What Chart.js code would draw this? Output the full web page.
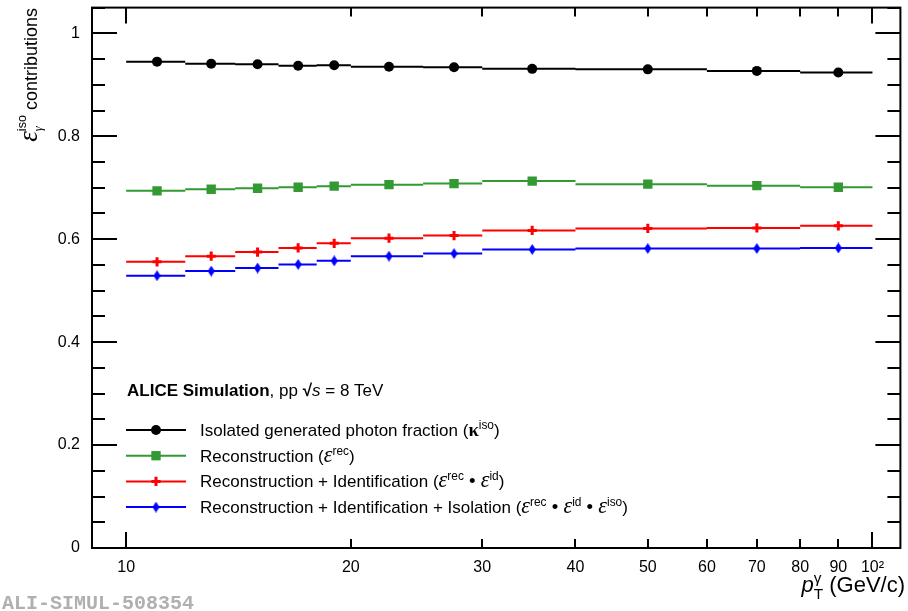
<!DOCTYPE html>
<html>
<head>
<meta charset="utf-8">
<title>Isolated photon efficiency contributions</title>
<script src="https://cdn.jsdelivr.net/npm/chart.js@4.4.1/dist/chart.umd.min.js"></script>
<style>
  html, body { margin: 0; padding: 0; background: #fff; }
  #wrap { width: 908px; height: 611px; }
</style>
</head>
<body>
<div id="wrap"><canvas id="effChart" width="908" height="611"></canvas></div>
<script>
// pT bins (GeV/c) and their centres
const binEdges = [10, 12, 14, 16, 18, 20, 25, 30, 40, 60, 80, 100];
const binCenters = [11, 13, 15, 17, 19, 22.5, 27.5, 35, 50, 70, 90];

// contributions per bin
const kappaIso = [0.945, 0.941, 0.940, 0.937, 0.938, 0.935, 0.934, 0.931, 0.930, 0.927, 0.924];
const effRec = [0.694, 0.697, 0.699, 0.701, 0.703, 0.706, 0.708, 0.713, 0.707, 0.704, 0.701];
const effRecId = [0.556, 0.567, 0.575, 0.583, 0.592, 0.602, 0.607, 0.617, 0.621, 0.622, 0.626];
const effRecIdIso = [0.529, 0.538, 0.544, 0.551, 0.558, 0.567, 0.572, 0.580, 0.582, 0.582, 0.583];

// axis ticks
const xTickValues = [10, 20, 30, 40, 50, 60, 70, 80, 90, 100];
const yTickValues = [0, 0.2, 0.4, 0.6, 0.8, 1];
const yMinorStep = 0.05;

const SANS = '"Liberation Sans", Arial, Helvetica, sans-serif';
const SERIF = '"Liberation Serif", "DejaVu Serif", serif';

Chart.defaults.font.family = SANS;
Chart.defaults.font.size = 16;
Chart.defaults.color = "#000";

const GREEN = "rgb(51, 153, 51)";

// thin diamond marker
function makeDiamond(color) {
  const c = document.createElement("canvas");
  c.width = 7;
  c.height = 11;
  const g = c.getContext("2d");
  g.fillStyle = color;
  g.beginPath();
  g.moveTo(3.5, 0);
  g.lineTo(7, 5.5);
  g.lineTo(3.5, 11);
  g.lineTo(0, 5.5);
  g.closePath();
  g.fill();
  return c;
}

const series = [
  { values: kappaIso, color: "#000", marker: { pointStyle: "circle", radius: 5, borderWidth: 0 } },
  { values: effRec, color: GREEN, marker: { pointStyle: "rect", radius: 6.6, borderWidth: 0 } },
  { values: effRecId, color: "#ff0000", marker: { pointStyle: "cross", radius: 4.6, borderWidth: 3 } },
  { values: effRecIdIso, color: "#0000ff", marker: { pointStyle: makeDiamond("#0000ff"), radius: 5, borderWidth: 0 } },
];

function binSegments(values) {
  const pts = [];
  values.forEach((v, i) => {
    pts.push({ x: binEdges[i], y: v }, { x: binEdges[i + 1], y: v }, { x: binEdges[i + 1], y: null });
  });
  return pts;
}

function returnDatasets() {
  const sets = [];
  series.forEach((s) => {
    sets.push({
      data: binSegments(s.values),
      borderColor: s.color,
      borderWidth: 2,
      pointRadius: 0,
      spanGaps: false,
      fill: false,
    });
    sets.push({
      data: binCenters.map((c, i) => ({ x: c, y: s.values[i] })),
      showLine: false,
      pointStyle: s.marker.pointStyle,
      pointRadius: s.marker.radius,
      pointBorderWidth: s.marker.borderWidth,
      pointBackgroundColor: s.color,
      pointBorderColor: s.color,
    });
  });
  return sets;
}

// text with super/subscripts, drawn piece by piece
function richWidth(ctx, parts, size) {
  return drawRich(ctx, parts, 0, 0, size, true);
}

function drawRich(ctx, parts, x, y, size, measureOnly) {
  let cx = x;
  let lastX = x;
  let lastW = 0;
  parts.forEach((p) => {
    const fs = (p.sup || p.sub ? size * 0.7 : size) * (p.k || 1);
    const family = p.serif ? SERIF : SANS;
    ctx.font = (p.i ? "italic " : "") + (p.b ? "bold " : "") + fs + "px " + family;
    const w = ctx.measureText(p.t).width;
    const dy = p.sup ? -size * (p.up || 0.42) : p.sub ? size * 0.3 : 0;
    const px = p.stack ? lastX : cx;
    if (!measureOnly) ctx.fillText(p.t, px, y + dy);
    if (p.stack) {
      cx = lastX + Math.max(lastW, w);
    } else {
      lastX = cx;
      lastW = w;
      cx += w;
    }
  });
  return cx - x;
}

const eps = (sup) => [{ t: "ε", serif: true, i: true, k: 1.3 }, { t: sup, sup: true }];
const dot = { t: " • ", k: 1.1 };
const legendRows = [
  [{ t: "Isolated generated photon fraction (" }, { t: "κ", b: true, serif: true, k: 1.1 }, { t: "iso", sup: true }, { t: ")" }],
  [{ t: "Reconstruction (" }, ...eps("rec"), { t: ")" }],
  [{ t: "Reconstruction + Identification (" }, ...eps("rec"), dot, ...eps("id"), { t: ")" }],
  [{ t: "Reconstruction + Identification + Isolation (" }, ...eps("rec"), dot, ...eps("id"), dot, ...eps("iso"), { t: ")" }],
];
const legendHeader = [{ t: "ALICE Simulation", b: true }, { t: ", pp " }, { t: "√", b: true }, { t: "s", i: true }, { t: " = 8 TeV" }];
const xTitle = [{ t: "p", i: true }, { t: "T", sub: true }, { t: "γ", sup: true, stack: true }, { t: " (GeV/c)" }];
const yTitle = [
  { t: "ε", serif: true, i: true, k: 1.5 },
  { t: "γ", sub: true, serif: true, i: true },
  { t: "iso", sup: true, stack: true, up: 0.6 },
  { t: " contributions" },
];

const frameAndTicks = {
  id: "frameAndTicks",
  afterDatasetsDraw(chart) {
    const { ctx, chartArea: a, scales } = chart;
    const x = scales.x;
    const y = scales.y;
    ctx.save();
    ctx.strokeStyle = "#000";
    ctx.lineWidth = 2;
    ctx.beginPath();
    const nMinor = Math.round(y.max / yMinorStep);
    for (let i = 0; i <= nMinor; i++) {
      const v = i * yMinorStep;
      const py = Math.round(y.getPixelForValue(v));
      const major = yTickValues.some((t) => Math.abs(t - v) < 1e-6);
      const len = major ? 25 : 13;
      ctx.moveTo(a.left, py);
      ctx.lineTo(a.left + len, py);
      ctx.moveTo(a.right, py);
      ctx.lineTo(a.right - len, py);
    }
    xTickValues.forEach((v) => {
      const px = Math.round(x.getPixelForValue(v));
      const len = v === 10 || v === 100 ? 16 : 9;
      ctx.moveTo(px, a.bottom);
      ctx.lineTo(px, a.bottom - len);
      ctx.moveTo(px, a.top);
      ctx.lineTo(px, a.top + len);
    });
    ctx.stroke();
    ctx.strokeRect(a.left, a.top, a.width, a.height);
    ctx.restore();
  },
};

const legendAndTitles = {
  id: "legendAndTitles",
  afterDraw(chart) {
    const { ctx } = chart;
    ctx.save();
    ctx.fillStyle = "#000";
    ctx.textBaseline = "alphabetic";

    drawRich(ctx, legendHeader, 127, 396, 17);

    const rowY = [430, 455.7, 481.4, 507.1];
    series.forEach((s, i) => {
      const cy = rowY[i];
      ctx.strokeStyle = s.color;
      ctx.lineWidth = 2;
      ctx.beginPath();
      ctx.moveTo(126, cy);
      ctx.lineTo(186, cy);
      ctx.stroke();
      ctx.fillStyle = s.color;
      ctx.lineWidth = s.marker.borderWidth || 1;
      Chart.helpers.drawPoint(ctx, { pointStyle: s.marker.pointStyle, radius: s.marker.radius, rotation: 0, borderWidth: s.marker.borderWidth }, 156, cy);
      ctx.fillStyle = "#000";
      drawRich(ctx, legendRows[i], 200, cy + 6, 17);
    });

    // x axis title, right aligned to the frame
    const xw = richWidth(ctx, xTitle, 22);
    drawRich(ctx, xTitle, 905 - xw, 592, 22);

    // y axis title, rotated, ending at the top
    const yw = richWidth(ctx, yTitle, 18);
    ctx.save();
    ctx.translate(37, 8);
    ctx.rotate(-Math.PI / 2);
    drawRich(ctx, yTitle, -yw, 0, 18);
    ctx.restore();

    ctx.fillStyle = "#b0b0b0";
    ctx.font = 'bold 20px "Liberation Mono", "DejaVu Sans Mono", monospace';
    ctx.fillText("ALI-SIMUL-508354", 2, 609);
    ctx.restore();
  },
};

// keep the plot frame fixed: no extra room for overhanging labels
function fixPadding(s) {
  s.paddingLeft = 0;
  s.paddingRight = 0;
  s.paddingTop = 0;
  s.paddingBottom = 0;
}

function chart() {
  new Chart(document.getElementById("effChart"), {
    type: "line",
    data: { datasets: returnDatasets() },
    options: {
      responsive: false,
      animation: false,
      devicePixelRatio: 1,
      layout: { padding: { top: 7, right: 3, left: 0, bottom: 0 } },
      plugins: { legend: { display: false }, tooltip: { enabled: false } },
      scales: {
        x: {
          type: "logarithmic",
          min: 9,
          max: 109,
          grid: { display: false },
          border: { display: false },
          afterBuildTicks: (s) => {
            s.ticks = xTickValues.map((v) => ({ value: v }));
          },
          afterFit: (s) => {
            s.height = 63;
            fixPadding(s);
          },
          ticks: {
            autoSkip: false,
            maxRotation: 0,
            padding: 2,
            callback: (v) => (v === 100 ? "10²" : String(v)),
          },
        },
        y: {
          type: "linear",
          min: 0,
          max: 1.05,
          grid: { display: false },
          border: { display: false },
          afterBuildTicks: (s) => {
            s.ticks = yTickValues.map((v) => ({ value: v }));
          },
          afterFit: (s) => {
            s.width = 92;
            fixPadding(s);
          },
          ticks: { padding: 4, callback: (v) => String(v) },
        },
      },
    },
    plugins: [frameAndTicks, legendAndTitles],
  });
}

chart();
</script>
</body>
</html>
